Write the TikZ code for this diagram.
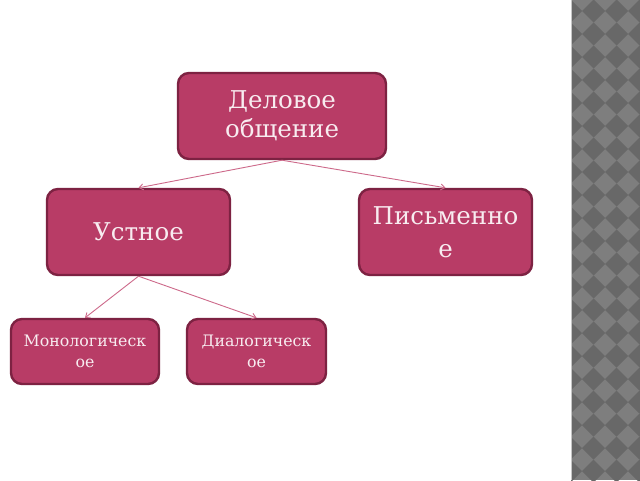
\documentclass[tikz,border=0pt]{standalone}
\usepackage{fontspec}
\setmainfont{DejaVu Serif}
\usetikzlibrary{arrows.meta}
\definecolor{boxfill}{RGB}{184,60,102}
\definecolor{boxedge}{RGB}{125,34,66}
\definecolor{linkcol}{RGB}{205,105,138}
\definecolor{txtcol}{RGB}{248,236,240}
\definecolor{stripdark}{RGB}{104,104,104}
\definecolor{striplight}{RGB}{126,126,126}
\tikzset{
  box/.style={draw=boxedge, line width=2.4pt, fill=boxfill, rounded corners=11pt,
    text=txtcol, align=center, inner sep=0pt},
  bigbox/.style={box, font=\fontsize{24.5}{29}\selectfont},
  smallbox/.style={box, font=\fontsize{15.8}{21}\selectfont},
  link/.style={draw=linkcol, line width=0.9pt, -{Straight Barb[length=4pt,width=6pt]}}
}
\begin{document}
\begin{tikzpicture}[x=1pt,y=-1pt]
\useasboundingbox (0,0) rectangle (640,480);
\fill[white] (0,0) rectangle (640,480);
% patterned strip
\begin{scope}
\clip (571,0) rectangle (640,480);
\fill[striplight] (571,0) rectangle (640,480);
\foreach \i in {0,...,4}{
  \foreach \j in {0,...,22}{
    \fill[stripdark] ({559+\i*23},{\j*23-12}) -- ++(11.5,-11.5) -- ++(11.5,11.5) -- ++(-11.5,11.5) -- cycle;
  }
}
\end{scope}
\draw[gray!45, line width=1.5pt] (571.5,0) -- (571.5,480);

\node[bigbox, minimum width=208pt, minimum height=86pt] (d) at (282,116) {Деловое\\общение};
\node[bigbox, minimum width=183pt, minimum height=86pt] (u) at (138.5,232) {Устное};
\node[bigbox, minimum width=173pt, minimum height=86pt, font=\fontsize{24.5}{33}\selectfont] (p) at (445.5,232) {Письменно\\е};
\node[smallbox, minimum width=148pt, minimum height=65pt] (m) at (85,351.5) {Монологическ\\ое};
\node[smallbox, minimum width=139pt, minimum height=65pt] (g) at (256.5,351.5) {Диалогическ\\ое};

\draw[link] (d.south) -- (u.north);
\draw[link] (d.south) -- (p.north);
\draw[link] (u.south) -- (m.north);
\draw[link] (u.south) -- (g.north);
\end{tikzpicture}
\end{document}
